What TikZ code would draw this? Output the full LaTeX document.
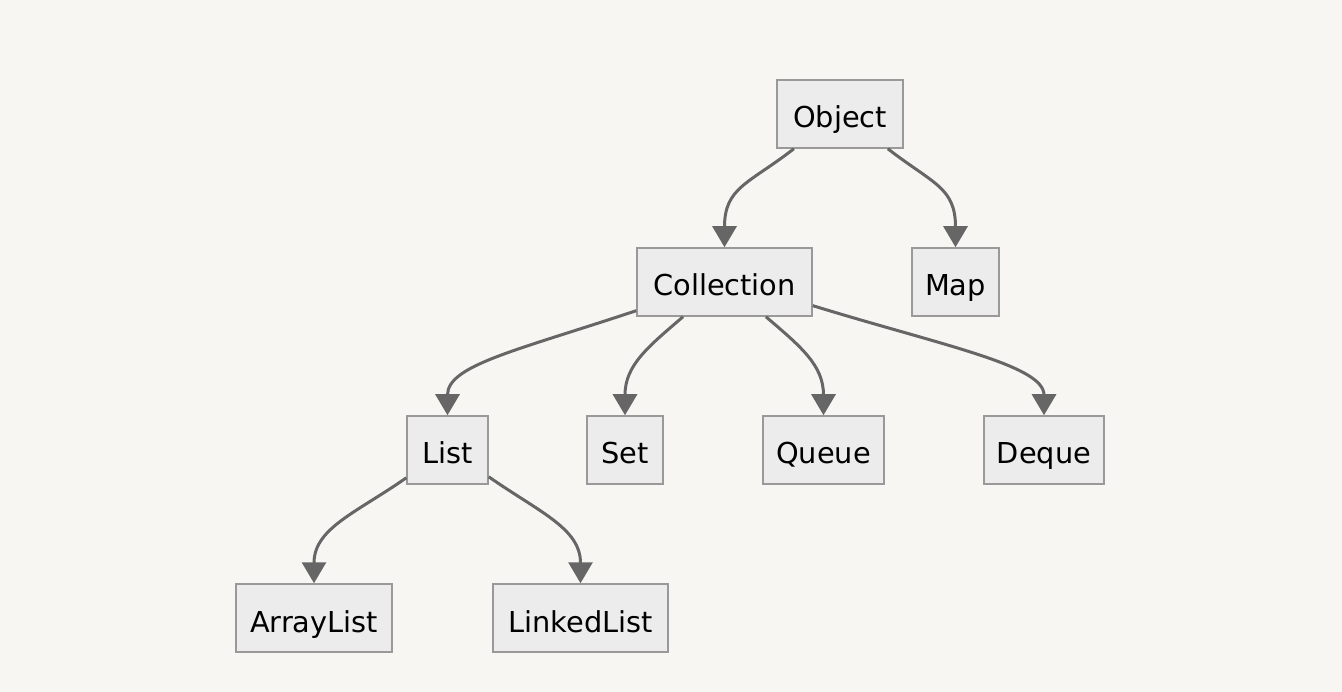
\documentclass[tikz,border=0pt]{standalone}
\usepackage{fontspec}
\setmainfont{DejaVu Sans}
\usetikzlibrary{arrows.meta}
\definecolor{bgc}{HTML}{F7F6F3}
\definecolor{boxfill}{HTML}{ECECEC}
\definecolor{boxline}{HTML}{999999}
\definecolor{edgec}{HTML}{666666}
\tikzset{
  cls/.style={draw=boxline, line width=1.5pt, fill=boxfill, inner sep=0pt,
    minimum height=68pt, minimum width=#1, text height=28pt, text depth=0pt,
    font=\fontsize{28.8}{32}\selectfont, text=black},
  edge/.style={draw=edgec, line width=3pt, -{Triangle[length=21pt,width=24pt]}}
}
\begin{document}
\begin{tikzpicture}[x=1pt,y=1pt]
\fill[bgc] (0,0) rectangle (1342,-692);
\useasboundingbox (0,0) rectangle (1342,-692);
\node[cls=126pt] (obj) at (840,-114) {Object};
\node[cls=175pt] (col) at (724.5,-282) {Collection};
\node[cls=87pt] (map) at (955.5,-282) {Map};
\node[cls=81pt] (lst) at (447.5,-450) {List};
\node[cls=76pt] (set) at (625,-450) {Set};
\node[cls=121pt] (que) at (823.5,-450) {Queue};
\node[cls=120pt] (deq) at (1044,-450) {Deque};
\node[cls=156pt] (arr) at (314,-618) {ArrayList};
\node[cls=175pt] (lnk) at (580.5,-618) {LinkedList};
\draw[edge] (obj.-143.5) .. controls +(-45,-35) and +(0,60) .. (col.north);
\draw[edge] (obj.-36.5) .. controls +(45,-35) and +(0,60) .. (map.north);
\draw[edge] (col.-162.3) .. controls +(-120,-40) and +(0,50) .. (lst.north);
\draw[edge] (col.-140) .. controls +(-35,-30) and +(0,50) .. (set.north);
\draw[edge] (col.-40) .. controls +(35,-30) and +(0,50) .. (que.north);
\draw[edge] (col.-15.3) .. controls +(130,-40) and +(0,50) .. (deq.north);
\draw[edge] (lst.-146.3) .. controls +(-50,-35) and +(0,55) .. (arr.north);
\draw[edge] (lst.-33.7) .. controls +(50,-35) and +(0,55) .. (lnk.north);
\end{tikzpicture}
\end{document}
